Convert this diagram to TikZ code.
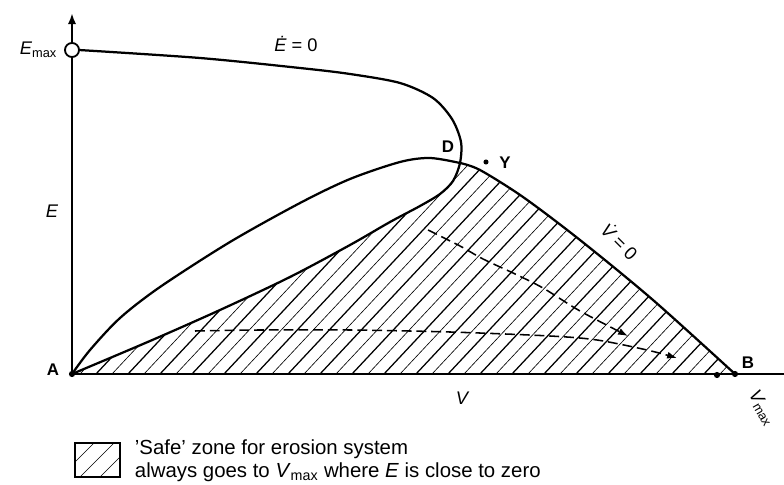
\documentclass[tikz,border=0pt]{standalone}
\usepackage{fontspec}
\setmainfont{Liberation Sans}
\usetikzlibrary{arrows.meta}
\tikzset{
    curve/.style={line width=1.6pt, line join=round},
    axis/.style={line width=1.6pt},
    hatchthick/.style={line width=0.9pt},
    hatchthin/.style={line width=0.45pt},
    traj/.style={line width=1.1pt, dash pattern=on 7pt off 3.5pt, -{Latex[length=7pt,width=5pt]}},
    ptlabel/.style={font=\fontsize{12}{14}\selectfont\bfseries},
    axlabel/.style={font=\fontsize{13}{15}\selectfont\itshape},
    legendtext/.style={font=\fontsize{14.5}{16.3}\selectfont, align=left, anchor=west},
}

\begin{document}
\begin{tikzpicture}[x=0.025cm, y=-0.025cm]
    \useasboundingbox (0,0) rectangle (784,485);

    \coordinate (A) at (72,374);
    \coordinate (B) at (735,374);
    \coordinate (D) at (460,163);
    \coordinate (Emax) at (72,50);
    \coordinate (Ytop) at (72,13);
    \coordinate (Xend) at (784,374);

    \begin{scope}
        \clip plot[smooth] coordinates {(72,374) (150,341) (220,310) (290,277) (350,245) (390,222) (420,206) (440,194) (453,181) (460,163)}
            -- plot[smooth] coordinates {(460,163) (480,170) (523,197) (580,240) (653,300) (735,374)} -- cycle;
        \foreach \x in {-160,-128,...,760}
            \draw[hatchthick] (\x,374) -- ++(300,-320);
        \foreach \x in {-144,-112,...,760}
            \draw[hatchthin] (\x,374) -- ++(300,-320);
    \end{scope}

    \draw[axis] (A) -- (Xend);
    \draw[axis, -{Latex[length=8pt,width=6pt]}] (A) -- (Ytop);

    \draw[curve] plot[smooth] coordinates {(79,50) (200,58) (300,68) (350,74) (400,83) (433,98) (452,119) (461,142) (460,163) (453,181) (440,194) (420,206) (390,222) (350,245) (290,277) (220,310) (150,341) (72,374)};
    \draw[curve] plot[smooth] coordinates {(72,374) (90,350) (120,318) (160,287) (230,242) (300,203) (350,179) (400,162) (430,158) (460,163)};
    \draw[curve] plot[smooth] coordinates {(460,163) (480,170) (523,197) (580,240) (653,300) (735,374)};

    \draw[traj] plot[smooth] coordinates {(428,230) (460,246) (483,259) (513,273) (543,288) (580,311) (628,336)};
    \draw[traj] plot[smooth] coordinates {(195,331) (260,330) (350,330) (450,332) (550,336) (597,340) (647,350) (677,358)};

    \filldraw[fill=white, line width=1.3pt] (Emax) circle[radius=5pt];
    \fill (A) circle[radius=2.2pt];
    \fill (B) circle[radius=2.2pt];
    \fill (717,375) circle[radius=2.2pt];
    \fill (486,162) circle[radius=1.8pt];

    \node[axlabel, anchor=east] (lEmax) at (62,50) {E\textsubscript{\upshape max}};
    \node[axlabel] (lE) at (52,211) {E};
    \node[axlabel] (lV) at (462,398) {V};
    \node[axlabel, rotate=-60, inner sep=1pt] (lVmax) at (762,408) {V\textsubscript{\upshape max}};
    \node[axlabel] (lEdot) at (296,44) {\.{E}\upshape\ = 0};
    \node[axlabel, rotate=-45, inner sep=1pt] (lVdot) at (620,241) {\.{V}\upshape\ = 0};

    \node[ptlabel] (lA) at (53,370) {A};
    \node[ptlabel] (lB) at (748,363) {B};
    \node[ptlabel] (lD) at (448,147) {D};
    \node[ptlabel] (lY) at (505,163) {Y};

    \begin{scope}
        \clip (75,443) rectangle (120,477);
        \foreach \x in {60,80,100}
            \draw[hatchthin] (\x,477) -- ++(40,-40);
    \end{scope}
    \draw[line width=0.9pt] (75,443) rectangle (120,477);
    \node[legendtext] (legend) at (130,461) {'Safe' zone for erosion system\\always goes to \textit{V}\textsubscript{max} where \textit{E} is close to zero};
\end{tikzpicture}
\end{document}
